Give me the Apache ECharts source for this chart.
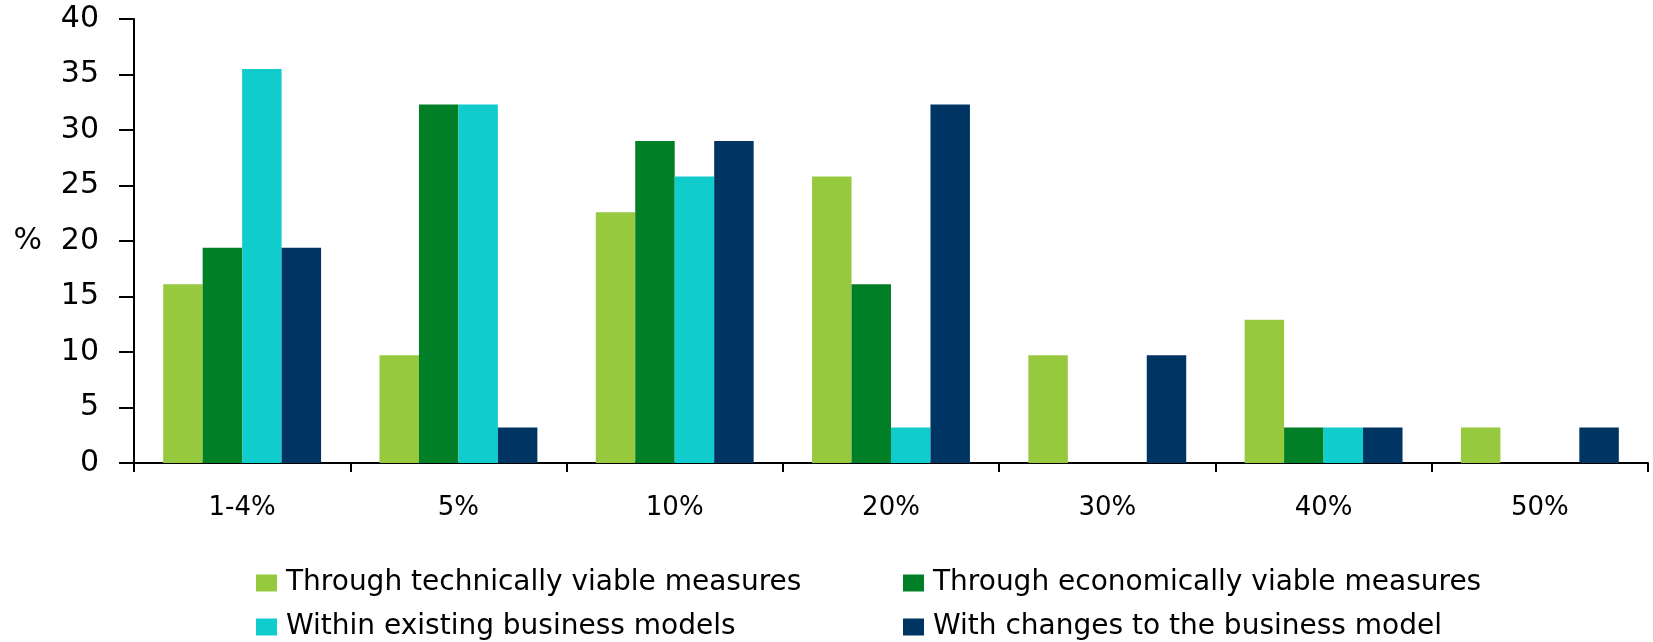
<!DOCTYPE html>
<html>
<head>
<meta charset="utf-8">
<style>
  html, body { margin: 0; padding: 0; background: #ffffff; }
  #chart { width: 1653px; height: 642px; }
</style>
<script src="https://cdn.jsdelivr.net/npm/echarts@6/dist/echarts.min.js"></script>
</head>
<body>
<div id="chart"></div>
<script>
// Share of respondents (%) by expected savings potential
const categories = ['1-4%', '5%', '10%', '20%', '30%', '40%', '50%'];
const seriesNames = [
  'Through technically viable measures',
  'Through economically viable measures',
  'Within existing business models',
  'With changes to the business model'
];
const technicallyViable  = [16.1, 9.7, 22.6, 25.8, 9.7, 12.9, 3.2];
const economicallyViable = [19.4, 32.3, 29.0, 16.1, 0, 3.2, 0];
const existingModels     = [35.5, 32.3, 25.8, 3.2, 0, 3.2, 0];
const changedModel       = [19.4, 3.2, 29.0, 32.3, 9.7, 3.2, 3.2];
const yTicks = [0, 5, 10, 15, 20, 25, 30, 35, 40];

const colors = ['#97c93f', '#007f26', '#11cccc', '#003462'];
const values = [technicallyViable, economicallyViable, existingModels, changedModel];
const font = 'DejaVu Sans, Verdana, sans-serif';

const chart = echarts.init(document.getElementById('chart'), null, { renderer: 'canvas' });

// Legend laid out as a 2 x 2 grid: one legend block per entry
const legendSlots = [
  { left: 256, top: 569 },
  { left: 903, top: 569 },
  { left: 256, top: 613 },
  { left: 903, top: 613 }
];
const legends = seriesNames.map((name, i) => ({
  data: [name],
  left: legendSlots[i].left,
  top: legendSlots[i].top,
  padding: 0,
  itemWidth: 21,
  itemHeight: 17,
  itemGap: 0,
  icon: 'rect',
  selectedMode: false,
  textStyle: { fontFamily: font, fontSize: 28, color: '#000000', padding: [0, 0, 0, 4] }
}));

chart.setOption({
  backgroundColor: '#ffffff',
  animation: false,
  color: colors,
  grid: { left: 134, right: 5, top: 19, bottom: 179, containLabel: false },
  legend: legends,
  xAxis: {
    type: 'category',
    data: categories,
    axisLine: { lineStyle: { color: '#000000', width: 2 } },
    axisTick: { show: true, length: 9, lineStyle: { color: '#000000', width: 2 } },
    axisLabel: { fontFamily: font, fontSize: 26, color: '#000000', margin: 32 },
    splitLine: { show: false }
  },
  yAxis: {
    type: 'value',
    min: yTicks[0],
    max: yTicks[yTicks.length - 1],
    interval: yTicks[1] - yTicks[0],
    name: '%',
    nameLocation: 'middle',
    nameRotate: 0,
    nameGap: 92,
    nameTextStyle: { fontFamily: font, fontSize: 30, color: '#000000', align: 'right', verticalAlign: 'middle' },
    axisLine: { show: true, lineStyle: { color: '#000000', width: 2 } },
    axisTick: { show: true, length: 15, lineStyle: { color: '#000000', width: 2 } },
    axisLabel: { fontFamily: font, fontSize: 30, color: '#000000', margin: 35 },
    splitLine: { show: false }
  },
  series: seriesNames.map((name, i) => ({
    name: name,
    type: 'bar',
    data: values[i],
    barGap: '0%',
    barCategoryGap: '27%',
    itemStyle: { color: colors[i] }
  }))
});
</script>
</body>
</html>
